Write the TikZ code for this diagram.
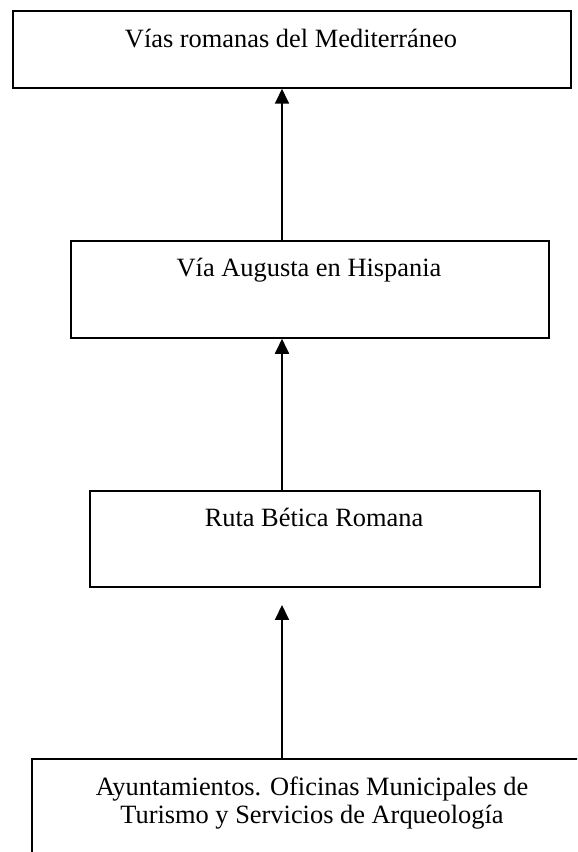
\documentclass[tikz,border=0pt]{standalone}
\usepackage{fontspec}
\setmainfont{Liberation Serif}
\usetikzlibrary{arrows.meta}
\begin{document}
\begin{tikzpicture}[x=0.4545pt,y=-0.4545pt,
  box/.style={draw,line width=0.8pt,rectangle,inner sep=0pt,anchor=north west},
  lbl/.style={anchor=base,inner sep=0pt,font=\fontsize{12}{14}\selectfont},
  arr/.style={line width=0.7pt,-{Triangle[width=6.4pt,length=6.8pt]}}]
\useasboundingbox (0,0) rectangle (577,852);
\clip (0,0) rectangle (577,852);
% boxes
\node[box,minimum width=253.6pt,minimum height=35.0pt] (b1) at (12,10) {};
\node[box,minimum width=217.3pt,minimum height=44.1pt] (b2) at (70,240) {};
\node[box,minimum width=204.5pt,minimum height=43.6pt] (b3) at (89,490) {};
\node[box,minimum width=255.4pt,minimum height=63.6pt] (b4) at (31,758) {};
% labels
\node[lbl] (t1) at (291,47) {Vías romanas del Mediterráneo};
\node[lbl] (t2) at (309,276) {Vía Augusta en Hispania};
\node[lbl] (t3) at (314,526) {Ruta Bética Romana};
\node[lbl] (t4a) at (312,795) {Ayuntamientos. Oficinas Municipales de};
\node[lbl] (t4b) at (312,823) {Turismo y Servicios de Arqueología};
% connectors
\coordinate (ax) at (282,0);
\coordinate (tip3) at (282,605);
\draw[arr] (b2.north -| ax) -- (b1.south -| ax);
\draw[arr] (b3.north -| ax) -- (b2.south -| ax);
\draw[arr] (b4.north -| ax) -- (tip3);
\end{tikzpicture}
\end{document}
